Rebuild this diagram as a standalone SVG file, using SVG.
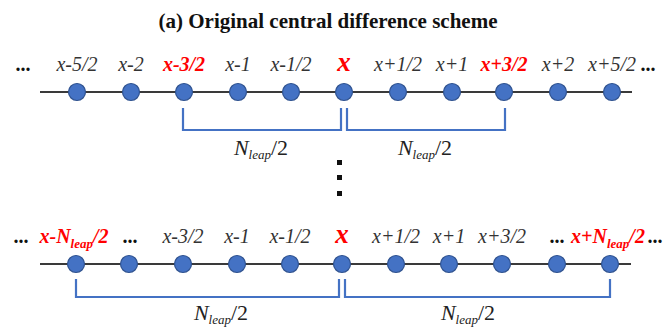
<svg xmlns="http://www.w3.org/2000/svg" width="666" height="330" viewBox="0 0 666 330">
<style>
.ax{stroke:#3a3a3a;stroke-width:2;fill:none}
.pt{fill:#4472C4;stroke:#2F528F;stroke-width:1.2}
.br{stroke:#4472C4;stroke-width:2.2;fill:none}
text{font-family:'Liberation Serif','Tinos','Nimbus Roman','Nimbus Roman No9 L','FreeSerif','Noto Serif','DejaVu Serif','Times New Roman',Times,serif}
.lb{font-style:italic;font-size:20px;fill:#333;text-anchor:middle}
.rd{font-style:italic;font-weight:bold;font-size:20px;fill:#FF0000;text-anchor:middle}
.bx{font-style:italic;font-weight:bold;font-size:27px;fill:#FF0000;text-anchor:middle}
.dt{font-weight:bold;font-size:20px;fill:#111;text-anchor:middle}
.nm{font-size:22px;fill:#222;text-anchor:middle}
.ti{font-weight:bold;font-size:21px;fill:#111;text-anchor:middle}
</style>
<rect width="666" height="330" fill="#fff"/>
<text class="ti" x="328" y="28" font-family="Liberation Serif, serif">(a) Original central difference scheme</text>

<g id="connectors">
<line class="ax" x1="40" y1="92" x2="632" y2="92"/>
<line class="ax" x1="40" y1="264" x2="631" y2="264"/>
<path class="br" d="M183,108 V130 H341 V108"/>
<path class="br" d="M347,108 V130 H505 V108"/>
<path class="br" d="M76,279 V297 H339 V279"/>
<path class="br" d="M345,279 V297 H610 V279"/>
</g>

<g id="row1">
<g id="n1a"><circle class="pt" cx="77" cy="92" r="8.5"/></g>
<g id="n1b"><circle class="pt" cx="131" cy="92" r="8.5"/></g>
<g id="n1c"><circle class="pt" cx="184" cy="92" r="8.5"/></g>
<g id="n1d"><circle class="pt" cx="238" cy="92" r="8.5"/></g>
<g id="n1e"><circle class="pt" cx="291" cy="92" r="8.5"/></g>
<g id="n1f"><circle class="pt" cx="344" cy="92" r="8.5"/></g>
<g id="n1g"><circle class="pt" cx="398" cy="92" r="8.5"/></g>
<g id="n1h"><circle class="pt" cx="452" cy="92" r="8.5"/></g>
<g id="n1i"><circle class="pt" cx="504" cy="92" r="8.5"/></g>
<g id="n1j"><circle class="pt" cx="558" cy="92" r="8.5"/></g>
<g id="n1k"><circle class="pt" cx="612" cy="92" r="8.5"/></g>
</g>
<g id="labels1">
<text class="dt" x="23" y="71">...</text>
<text class="lb" x="77" y="71">x-5/2</text>
<text class="lb" x="131" y="71">x-2</text>
<text class="rd" x="184" y="71">x-3/2</text>
<text class="lb" x="238" y="71">x-1</text>
<text class="lb" x="291" y="71">x-1/2</text>
<text class="bx" x="344" y="71">x</text>
<text class="lb" x="398" y="71">x+1/2</text>
<text class="lb" x="452" y="71">x+1</text>
<text class="rd" x="504" y="71">x+3/2</text>
<text class="lb" x="558" y="71">x+2</text>
<text class="lb" x="612" y="71">x+5/2</text>
<text class="dt" x="648" y="71">...</text>
</g>
<g id="nlabels1">
<text class="nm" x="261" y="155"><tspan font-style="italic">N</tspan><tspan font-style="italic" font-size="13" dy="4">leap</tspan><tspan dy="-4">/2</tspan></text>
<text class="nm" x="425" y="155"><tspan font-style="italic">N</tspan><tspan font-style="italic" font-size="13" dy="4">leap</tspan><tspan dy="-4">/2</tspan></text>
</g>
<g id="vdots">
<rect x="337" y="160" width="5" height="5" fill="#111"/>
<rect x="337" y="175" width="5" height="5" fill="#111"/>
<rect x="337" y="191" width="5" height="5" fill="#111"/>
</g>

<g id="row2">
<g id="n2a"><circle class="pt" cx="76" cy="264" r="8.5"/></g>
<g id="n2b"><circle class="pt" cx="129" cy="264" r="8.5"/></g>
<g id="n2c"><circle class="pt" cx="183" cy="264" r="8.5"/></g>
<g id="n2d"><circle class="pt" cx="237" cy="264" r="8.5"/></g>
<g id="n2e"><circle class="pt" cx="290" cy="264" r="8.5"/></g>
<g id="n2f"><circle class="pt" cx="342" cy="264" r="8.5"/></g>
<g id="n2g"><circle class="pt" cx="396" cy="264" r="8.5"/></g>
<g id="n2h"><circle class="pt" cx="449" cy="264" r="8.5"/></g>
<g id="n2i"><circle class="pt" cx="502" cy="264" r="8.5"/></g>
<g id="n2j"><circle class="pt" cx="557" cy="264" r="8.5"/></g>
<g id="n2k"><circle class="pt" cx="610" cy="264" r="8.5"/></g>
</g>
<g id="labels2">
<text class="dt" x="21" y="243">...</text>
<text class="rd" x="74" y="243">x-N<tspan font-size="13" dy="5">leap</tspan><tspan dy="-5">/2</tspan></text>
<text class="dt" x="130" y="243">...</text>
<text class="lb" x="183" y="243">x-3/2</text>
<text class="lb" x="237" y="243">x-1</text>
<text class="lb" x="290" y="243">x-1/2</text>
<text class="bx" x="342" y="243">x</text>
<text class="lb" x="396" y="243">x+1/2</text>
<text class="lb" x="449" y="243">x+1</text>
<text class="lb" x="502" y="243">x+3/2</text>
<text class="dt" x="557" y="243">...</text>
<text class="rd" x="608" y="243">x+N<tspan font-size="13" dy="5">leap</tspan><tspan dy="-5">/2</tspan></text>
<text class="dt" x="655" y="243">...</text>
</g>
<g id="nlabels2">
<text class="nm" x="221" y="320"><tspan font-style="italic">N</tspan><tspan font-style="italic" font-size="13" dy="4">leap</tspan><tspan dy="-4">/2</tspan></text>
<text class="nm" x="468" y="320"><tspan font-style="italic">N</tspan><tspan font-style="italic" font-size="13" dy="4">leap</tspan><tspan dy="-4">/2</tspan></text>
</g>
</svg>
